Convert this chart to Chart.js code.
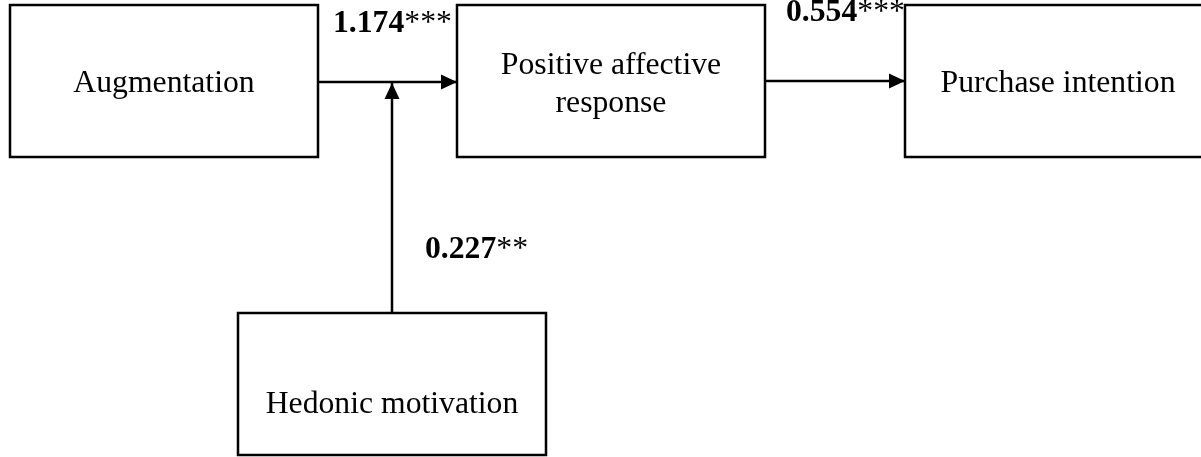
<!DOCTYPE html>
<html>
<head>
<meta charset="utf-8">
<script src="https://cdn.jsdelivr.net/npm/chart.js@4/dist/chart.umd.min.js"></script>
<style>
  html, body { margin: 0; padding: 0; background: #fff; }
  canvas { display: block; }
</style>
</head>
<body>
<canvas id="pathChart" width="1201" height="457"></canvas>
<script>
// constructs (boxes) of the path model, in diagram units
const nodeNames = [['Augmentation'], ['Positive affective', 'response'], ['Purchase intention'], ['Hedonic motivation']];
const nodeLeft = [10, 457, 905, 238];
const nodeRight = [318, 765, 1215, 546];
const nodeTop = [5, 5, 5, 313];
const nodeBottom = [157, 157, 157, 455];
const nodeTextY = [[92], [74, 112], [92], [413]];

// paths between constructs
const pathFromX = [318, 765, 392];
const pathFromY = [82, 81, 313];
const pathToX = [457, 905, 392];
const pathToY = [82, 81, 83];

// path coefficients
const coefValues = ['1.174', '0.554', '0.227'];
const coefStars = ['***', '***', '**'];
const coefX = [333, 786, 425];
const coefY = [32, 21, 258];

var ink = '#000000';
var serif = '"Liberation Serif", "Times New Roman", serif';
var fontSize = 31.7;

var datasets = [];
nodeNames.forEach(function (n, i) {
    datasets.push({
        data: [
            { x: nodeLeft[i], y: nodeTop[i] }, { x: nodeRight[i], y: nodeTop[i] },
            { x: nodeRight[i], y: nodeBottom[i] }, { x: nodeLeft[i], y: nodeBottom[i] },
            { x: nodeLeft[i], y: nodeTop[i] }, { x: nodeRight[i], y: nodeTop[i] }
        ],
        showLine: true, borderColor: ink, borderWidth: 2.5, borderJoinStyle: 'miter',
        pointRadius: 0, fill: false, tension: 0
    });
});
pathFromX.forEach(function (_, i) {
    datasets.push({
        data: [{ x: pathFromX[i], y: pathFromY[i] }, { x: pathToX[i], y: pathToY[i] }],
        showLine: true, borderColor: ink, borderWidth: 2.5, pointRadius: 0, fill: false
    });
});

// arrowheads + text labels
var diagramPlugin = {
    id: 'diagram',
    afterDatasetsDraw: function (chart) {
        var ctx = chart.ctx, sx = chart.scales.x, sy = chart.scales.y;
        ctx.save();
        ctx.fillStyle = ink;
        pathToX.forEach(function (_, i) {
            var x1 = sx.getPixelForValue(pathFromX[i]), y1 = sy.getPixelForValue(pathFromY[i]);
            var x2 = sx.getPixelForValue(pathToX[i]), y2 = sy.getPixelForValue(pathToY[i]);
            var a = Math.atan2(y2 - y1, x2 - x1), len = 16, hw = 7.5;
            ctx.beginPath();
            ctx.moveTo(x2, y2);
            ctx.lineTo(x2 - len * Math.cos(a) + hw * Math.sin(a), y2 - len * Math.sin(a) - hw * Math.cos(a));
            ctx.lineTo(x2 - len * Math.cos(a) - hw * Math.sin(a), y2 - len * Math.sin(a) + hw * Math.cos(a));
            ctx.closePath();
            ctx.fill();
        });

        ctx.textBaseline = 'alphabetic';
        ctx.textAlign = 'center';
        ctx.font = fontSize + 'px ' + serif;
        nodeNames.forEach(function (lines, i) {
            var cx = sx.getPixelForValue((nodeLeft[i] + Math.min(nodeRight[i], 1211)) / 2);
            lines.forEach(function (t, j) {
                ctx.fillText(t, cx, sy.getPixelForValue(nodeTextY[i][j]));
            });
        });

        ctx.textAlign = 'left';
        coefValues.forEach(function (v, i) {
            var x = sx.getPixelForValue(coefX[i]), y = sy.getPixelForValue(coefY[i]);
            ctx.font = 'bold ' + fontSize + 'px ' + serif;
            ctx.fillText(v, x, y);
            var w = ctx.measureText(v).width;
            ctx.font = fontSize + 'px ' + serif;
            ctx.fillText(coefStars[i], x + w, y);
        });
        ctx.restore();
    }
};

new Chart(document.getElementById('pathChart'), {
    type: 'scatter',
    data: { datasets: datasets },
    options: {
        responsive: false, animation: false,
        layout: { padding: 0 },
        plugins: { legend: { display: false }, tooltip: { enabled: false } },
        scales: {
            x: { type: 'linear', min: 0, max: 1201, display: false },
            y: { type: 'linear', min: 0, max: 457, reverse: true, display: false }
        }
    },
    plugins: [diagramPlugin]
});
</script>
</body>
</html>
